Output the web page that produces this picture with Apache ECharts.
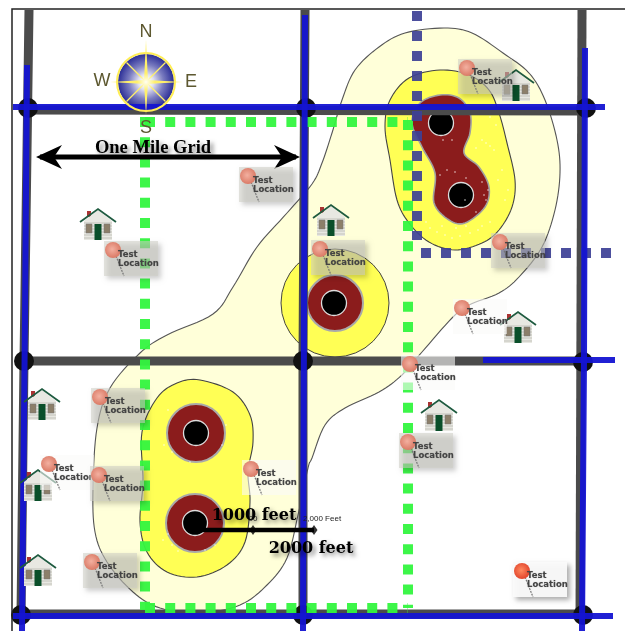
<!DOCTYPE html>
<html><head><meta charset="utf-8">
<style>html,body{margin:0;padding:0;background:#fff}#c{width:625px;height:631px}</style>
<script src="https://cdn.jsdelivr.net/npm/echarts@6/dist/echarts.min.js"></script>
</head><body><div id="c"></div>
<script>
// ---- map geometry (pixel-like map units) ----
const zoneOuter = [[444,28],[472,33],[503,53],[529,73],[545,100],[557,140],[560,173],[555,210],[542,247],[519,277],[499,293],[469,305],[452,318],[422,352],[402,375],[379,392],[345,408],[325,425],[312,458],[308,468],[298,515],[287,558],[267,585],[240,605],[200,613],[160,608],[133,592],[107,562],[95,532],[93,488],[97,428],[110,388],[140,353],[167,335],[213,314],[233,287],[257,247],[287,213],[312,184],[322,163],[332,133],[342,100],[355,70],[379,47],[405,33]];
const zoneYellowNE = [[440,70],[469,75],[489,90],[499,113],[507,143],[515,180],[512,207],[499,230],[482,243],[455,250],[429,242],[409,223],[397,200],[390,160],[385,127],[390,100],[409,78]];
const zoneYellowSW = [[200,380],[233,392],[250,415],[253,442],[248,472],[250,502],[245,542],[227,565],[197,577],[167,572],[147,552],[140,522],[143,482],[142,432],[157,398],[177,383]];
const zoneRedNE = [[440,95],[459,98],[470,113],[470,133],[464,153],[479,167],[489,187],[485,207],[465,223],[449,220],[434,203],[435,173],[422,147],[412,123],[420,103]];
const yellowDiscs = [[335,303,108]];
const redDiscs = [[335,303,56],[196,433,58],[195,523,58]];
const wellHoles = [[441,123,25],[461,195,25],[334,303,25],[196,433,25],[195,523,25]];
const roadNodes = [[28,108],[306,108],[586,108],[24,361],[303,361],[583,362],[21,615],[303,615],[583,615]];
const speckles = [[430,228],[437,232],[445,235],[452,238],[460,236],[470,233],[478,230],[426,222],[420,215],[442,226],[456,228],[466,226],[482,226],[490,222],[482,140],[486,143],[490,146],[476,148],[494,150],[490,117],[496,125],[488,190],[484,195],[482,182],[486,200],[476,212],[465,200],[440,175],[447,170],[455,172],[466,178],[452,140],[443,140],[505,200],[498,180],[168,534],[172,545],[178,551],[163,540],[205,550],[215,545],[222,530],[164,445],[172,452],[190,462],[222,445],[226,425],[168,410],[502,170],[508,190]];
const grayRoads = [
  [[29,10],[24,361],[21,615]],
  [[305,10],[303,361],[303,615]],
  [[582,10],[580,615]],
  [[28,110],[586,111]],
  [[24,361],[583,361]],
  [[21,614],[583,614]]
];
const blueRoads = [
  [[27,65],[25,315],[22,631]],
  [[305,15],[304,315],[303,631]],
  [[585,48],[584,360],[582,631]],
  [[13,107],[605,107]],
  [[483,360],[615,360]],
  [[13,616],[613,616]]
];
const greenDots = [
  [[145,117],[145,610]],
  [[145,122],[408,122]],
  [[408,120],[408,608]],
  [[145,608],[408,608]]
];
const navyDots = [
  [[417,11],[417,240]],
  [[421,253],[614,253]]
];
const houses = [[98,224],[42,404],[38,485],[38,570],[331,220],[516,85],[518,327],[439,415]];
const testPins = [[113,250,0],[248,176,0],[467,68,0],[320,249,0],[500,242,0],[462,308,1],[100,397,0],[49,464,1],[99,475,0],[92,562,0],[251,469,1],[410,364,1],[408,442,0],[522,571,2]];
const compassAt = [146,82];
const compassLetters = [['N',146,32],['W',102,81],['E',191,82],['S',146,128]];
const mileArrow = [[40,157],[296,157]];
const scaleBar = [[195,530],[314,530]];
const scaleTicks = [[253,530],[314,530]];
const textLabels = [
  ['One Mile Grid',153,148,18.5,'Liberation Serif'],
  ['1000 feet',254,516,16,'DejaVu Serif'],
  ['2000 feet',311,549,16,'DejaVu Serif']
];
const smallLabels = [['00',253,519],['2,000 Feet',322,519]];

// ---- series helpers ----
function once(render){return function(p,api){return p.dataIndex===0?render(p,api):null;};}
function spline(pts){
  const out=[],n=pts.length;
  for(let i=0;i<n;i++){
    const a=pts[(i-1+n)%n],b=pts[i],c=pts[(i+1)%n],d=pts[(i+2)%n];
    for(let k=0;k<8;k++){
      const t=k/8,t2=t*t,t3=t2*t;
      out.push([0,1].map(j=>.5*(2*b[j]+(c[j]-a[j])*t+(2*a[j]-5*b[j]+4*c[j]-d[j])*t2+(3*b[j]-a[j]-3*c[j]+d[j])*t3)));
    }
  }
  return out;
}
function poly(points,fill,stroke,z,lw){
  return {type:'custom',z,silent:true,data:points,clip:false,renderItem:once((p,api)=>({
    type:'polygon',shape:{points:spline(points.map(q=>api.coord(q)))},
    style:{fill,stroke,lineWidth:lw||1.1}}))};
}
function line(points,color,width,z,dash,opacity){
  return {type:'line',z,silent:true,data:points,showSymbol:false,symbol:'none',clip:false,
    lineStyle:{color,width,type:dash||'solid',cap:'butt',opacity:opacity==null?1:opacity}};
}
function discs(rows,color,z,border,bw){
  return {type:'scatter',z,silent:true,data:rows.map(r=>[r[0],r[1]]),clip:false,
    symbol:'circle',symbolSize:(v,p)=>rows[p.dataIndex][2],
    itemStyle:{color,opacity:1,borderColor:border||color,borderWidth:bw||0}};
}
const houseSeries = {type:'custom',z:30,silent:true,data:houses,clip:false,renderItem(p,api){
  const c=api.coord([api.value(0),api.value(1)]);
  const kids=[
    {type:'rect',shape:{x:-11,y:-13,width:4,height:6},style:{fill:'#a33'}},
    {type:'polygon',shape:{points:[[0,-14],[14,-3],[14,16],[-14,16],[-14,-3]]},style:{fill:'#e8e8e2'}}
  ];
  for(let y=-1;y<16;y+=3)kids.push({type:'line',shape:{x1:-14,y1:y,x2:14,y2:y},style:{stroke:'#aaa9a2',lineWidth:.6}});
  kids.push(
    {type:'rect',shape:{x:-12,y:0,width:6,height:9},style:{fill:'#8c7f6a',stroke:'#777',lineWidth:.5}},
    {type:'rect',shape:{x:6,y:0,width:6,height:9},style:{fill:'#8c7f6a',stroke:'#777',lineWidth:.5}},
    {type:'rect',shape:{x:-3.5,y:0,width:7,height:16},style:{fill:'#0a4f2a'}},
    {type:'polyline',shape:{points:[[-18,-2],[0,-15],[18,-2]]},style:{stroke:'#1f5b40',fill:'none',lineWidth:1.8}}
  );
  return {type:'group',x:c[0],y:c[1],children:kids};
}};
const pinSeries = {type:'custom',z:40,silent:true,data:testPins,clip:false,renderItem(p,api){
  const c=api.coord([api.value(0),api.value(1)]),kind=api.value(2);
  const fills=['rgba(205,205,196,0.55)','rgba(250,250,248,0.6)','rgba(250,250,250,0.95)'];
  const grad=kind===2?['#ff8a60','#e2452c']:['#f3b0a0','#da7a66'];
  const shadow=kind===1?{}:{shadowBlur:5,shadowOffsetX:3,shadowOffsetY:3,shadowColor:'rgba(0,0,0,0.35)'};
  const txt=(s,x,y)=>({type:'text',x,y,style:{text:s,font:'bold 8.5px "DejaVu Sans"',fill:'#444',textVerticalAlign:'middle',textShadowBlur:1,textShadowColor:'rgba(0,0,0,.3)'}});
  return {type:'group',x:c[0],y:c[1],children:[
    {type:'rect',shape:{x:-9,y:-9,width:54,height:35},style:Object.assign({fill:fills[kind]},shadow)},
    {type:'line',shape:{x1:3,y1:6,x2:11,y2:26},style:{stroke:'#777',lineWidth:1.2,lineDash:[2,1]}},
    {type:'circle',shape:{cx:0,cy:0,r:8},style:{fill:{type:'radial',x:.45,y:.45,r:.55,colorStops:[{offset:0,color:grad[0]},{offset:1,color:grad[1]}]}}},
    txt('Test',5,5),txt('Location',5,14)
  ]};
}};
const compassDisc = {type:'custom',z:13,silent:true,data:[compassAt],clip:false,renderItem(p,api){
  const c=api.coord(compassAt);
  return {type:'circle',shape:{cx:c[0],cy:c[1],r:28},style:{fill:{type:'radial',x:.5,y:.5,r:.5,colorStops:[{offset:0,color:'#fffff0'},{offset:.3,color:'#d8d8ee'},{offset:.62,color:'#7a7cc0'},{offset:1,color:'#2b2e96'}]}}};
}};
const compassStar = {type:'custom',z:26,silent:true,data:[compassAt],clip:false,renderItem(p,api){
  const c=api.coord(compassAt),Y='#fff06a';
  const d=19.5;
  const sp=(a,b,e,f,w)=>({type:'line',shape:{x1:a,y1:b,x2:e,y2:f},style:{stroke:Y,lineWidth:w}});
  return {type:'group',x:c[0],y:c[1],children:[
    {type:'circle',shape:{cx:0,cy:0,r:29},style:{fill:'none',stroke:'#ffee55',lineWidth:2}},
    {type:'polygon',shape:{points:[[0,-42],[2,0],[0,33],[-2,0]]},style:{fill:Y}},
    {type:'polygon',shape:{points:[[-36,0],[0,-2],[37,0],[0,2]]},style:{fill:Y}},
    sp(-d,-d,d,d,1.2),sp(d,-d,-d,d,1.2),
    {type:'circle',shape:{cx:0,cy:0,r:9},style:{fill:{type:'radial',x:.5,y:.5,r:.5,colorStops:[{offset:0,color:'#fffff5'},{offset:1,color:'rgba(255,255,235,0)'}]}}}
  ]};
}};
const compassText = {type:'custom',z:27,silent:true,data:compassLetters.map(r=>[r[1],r[2]]),clip:false,renderItem(p,api){
  const r=compassLetters[p.dataIndex],c=api.coord([r[1],r[2]]);
  return {type:'text',x:c[0],y:c[1],style:{text:r[0],font:'18px "Liberation Sans"',fill:'#5d5830',align:'center',verticalAlign:'middle'}};
}};
const arrowHeads = {type:'custom',z:33,silent:true,data:mileArrow,clip:false,renderItem(p,api){
  const c=api.coord(mileArrow[p.dataIndex]),s=p.dataIndex===0?1:-1;
  const tipX=s*-4;
  return {type:'polygon',x:c[0],y:c[1],shape:{points:[[tipX,0],[s*22,-12],[s*14,0],[s*22,12]]},style:{fill:'#000'}};
}};
const labelSeries = {type:'custom',z:45,silent:true,data:textLabels.map(r=>[r[1],r[2]]),clip:false,renderItem(p,api){
  const r=textLabels[p.dataIndex],c=api.coord([r[1],r[2]]);
  return {type:'text',x:c[0],y:c[1],style:{text:r[0],font:'bold '+r[3]+'px "'+r[4]+'"',fill:'#000',align:'center',verticalAlign:'middle',textShadowBlur:4,textShadowOffsetX:3,textShadowOffsetY:3,textShadowColor:'rgba(0,0,0,.45)'}};
}};
const smallSeries = {type:'custom',z:34,silent:true,data:smallLabels.map(r=>[r[1],r[2]]),clip:false,renderItem(p,api){
  const r=smallLabels[p.dataIndex],c=api.coord([r[1],r[2]]);
  return {type:'text',x:c[0],y:c[1],style:{text:r[0],font:'8px "Liberation Sans"',fill:'#222',align:'center',verticalAlign:'middle'}};
}};
const frame = {type:'custom',z:60,silent:true,data:[[12,9]],clip:false,renderItem(p,api){
  const a=api.coord([12,631]),b=api.coord([12,9]),d=api.coord([625,9]);
  return {type:'polyline',shape:{points:[a,b,d]},style:{stroke:'#222',fill:'none',lineWidth:1.5}};
}};

const series=[
  poly(zoneOuter,'#ffffd9','#555',2),
  poly(zoneYellowNE,'#ffff55','#444',3),
  poly(zoneYellowSW,'#ffff55','#444',3),
  discs(yellowDiscs,'#ffff55',3,'#444',1),
  poly(zoneRedNE,'#8b1c1c','#a0a0a0',4,1.6),
  discs(redDiscs,'#8b1c1c',4,'#a9a9a9',2),
  discs(wellHoles,'#000',5,'#ddd',1.3),
  {type:'scatter',z:6,silent:true,symbol:'circle',symbolSize:1.6,data:speckles,itemStyle:{color:'#fff'}},
  compassDisc,
  ...grayRoads.map(r=>line(r,'#4b4b4b',9,15)),
  discs(roadNodes.map(n=>[n[0],n[1],20]),'#111',16),
  ...greenDots.map(r=>line(r,'#33f53f',10,18,[10,10.2],.95)),
  ...navyDots.map(r=>line(r,'#3d4096',10,19,[10,10],.92)),
  ...blueRoads.map(r=>line(r,'#1414d2',6,20,'solid',.95)),
  compassStar,compassText,
  houseSeries,
  line(mileArrow,'#000',5,32),arrowHeads,
  line(scaleBar,'#000',4.5,32),
  {type:'scatter',z:33,silent:true,symbol:'diamond',symbolSize:[7,10],data:scaleTicks,itemStyle:{color:'#000'}},
  smallSeries,pinSeries,labelSeries,frame
];
const chart=echarts.init(document.getElementById('c'),null,{renderer:'canvas'});
chart.setOption({
  animation:false,backgroundColor:'#fff',
  grid:{left:0,right:0,top:0,bottom:0},
  xAxis:{type:'value',min:0,max:625,show:false},
  yAxis:{type:'value',min:0,max:631,inverse:true,show:false},
  tooltip:{show:false},legend:{show:false},
  series
});
</script></body></html>
